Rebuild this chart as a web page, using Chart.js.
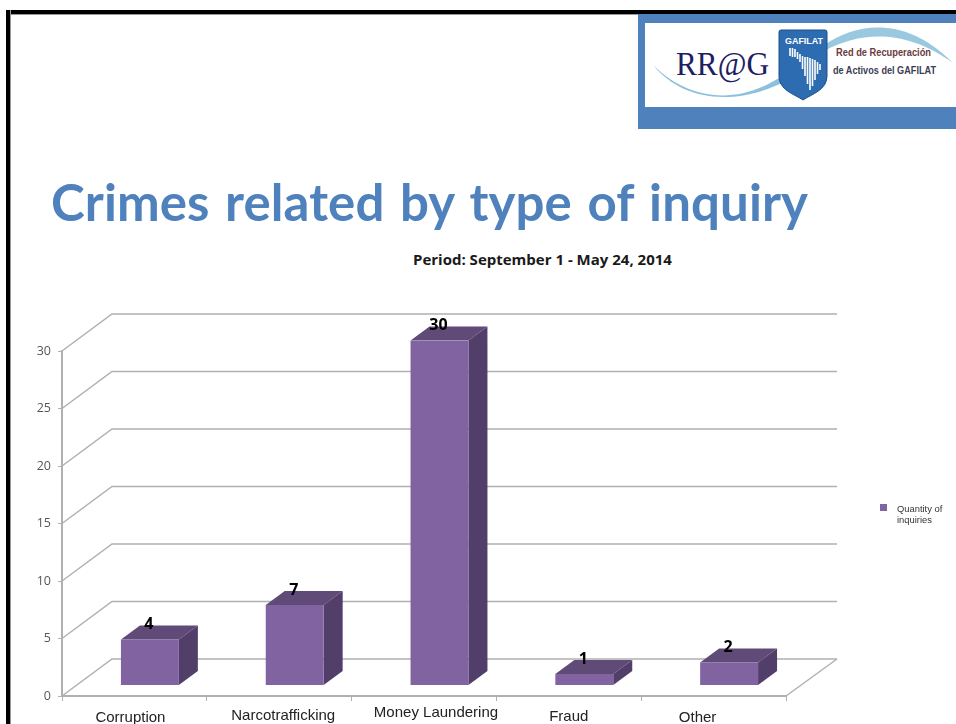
<!DOCTYPE html>
<html>
<head>
<meta charset="utf-8">
<title>Crimes related by type of inquiry</title>
<style>
  html, body { margin: 0; padding: 0; background: #fff; }
  body { position: relative; width: 956px; height: 724px; overflow: hidden; }
  #frameTop { position: absolute; left: 6px; top: 10px; width: 950px; height: 3.5px; background: #000; box-shadow: 0 1px 0 #999; }
  #frameLeft { position: absolute; left: 6px; top: 10px; width: 3.5px; height: 714px; background: #000; box-shadow: 1px 0 0 #999; }
  #logo { position: absolute; left: 630px; top: 0; }
  #heading {
    position: absolute; left: 51px; top: 171px; margin: 0; white-space: nowrap;
    font: bold 51px Lato, sans-serif; color: #4f81bd; letter-spacing: 0.1px; word-spacing: 3px;
  }
  #period {
    position: absolute; left: 413px; top: 249px; white-space: nowrap;
    font: bold 15px "Open Sans", sans-serif; color: #1a1a1a;
  }
  #chart { position: absolute; left: 0; top: 0; }
  #legend {
    position: absolute; left: 880px; top: 503px; width: 72px; padding-left: 17px; box-sizing: border-box;
    font: 9.4px/11px "Liberation Sans", sans-serif; color: #333;
  }
  #legend i { position: absolute; left: 0; top: 1px; width: 7px; height: 7px; background: #8064a2; }
</style>
</head>
<body>
<div id="frameTop"></div>
<div id="frameLeft"></div>

<svg id="logo" width="326" height="135" viewBox="630 0 326 135">
  <rect x="638" y="14" width="318" height="115" fill="#4f81bd"/>
  <rect x="645" y="23" width="311" height="84" fill="#fff"/>
  <path d="M653 65 C680 92 728 112 782 76 L782 83 C728 108 680 98 653 65 Z" fill="#8cc0dc"/>
  <path d="M826 44 C855 24 905 14 953 63 C905 28 860 32 826 50 Z" fill="#9ac8de"/>
  <text x="676" y="75" font-family="Liberation Serif" font-size="33" fill="#1c2060" textLength="93" lengthAdjust="spacingAndGlyphs">RR@G</text>
  <path d="M781 30 H825 Q827 30 827 32 V76 C827 90 812 94 803 100 C794 94 779 90 779 76 V32 Q779 30 781 30 Z" fill="#2d6cb0" stroke="#1d4f8c" stroke-width="1"/>
  <text x="785" y="44" font-family="Liberation Sans" font-weight="bold" font-size="8.5" fill="#fff" textLength="38" lengthAdjust="spacingAndGlyphs">GAFILAT</text>
  <path d="M790 48 V56 M792.5 48 V57 M795 49 V57 M797.5 52 V59 M800 54 V62 M802.5 56 V69 M805 57 V76 M807.5 57 V84 M810 58 V90 M812.5 59 V86 M815 60 V80 M817.5 62 V74 M820 64 V70" stroke="#fff" stroke-width="1.6" fill="none"/>
  <text x="836" y="56" font-family="Liberation Sans Narrow, Liberation Sans" font-weight="bold" font-size="10" fill="#6b3b40" textLength="95" lengthAdjust="spacingAndGlyphs">Red de Recuperación</text>
  <text x="833" y="74" font-family="Liberation Sans Narrow, Liberation Sans" font-weight="bold" font-size="10" fill="#3d3d55" textLength="103" lengthAdjust="spacingAndGlyphs">de Activos del GAFILAT</text>
</svg>

<h1 id="heading">Crimes related by type of inquiry</h1>
<div id="period">Period: September 1 - May 24, 2014</div>
<canvas id="chart" width="956" height="724"></canvas>
<div id="legend"></div>

<script src="https://cdn.jsdelivr.net/npm/chart.js@4/dist/chart.umd.min.js"></script>
<script>
//
// Variables
//

var categories = ['Corruption', 'Narcotrafficking', 'Money Laundering', 'Fraud', 'Other'];
var inquiries = [4, 7, 30, 1, 2];
var seriesName = 'Quantity of inquiries';
var yTicks = [0, 5, 10, 15, 20, 25, 30];

// The category labels were loose text boxes on the slide, so they wander a bit
var labelNudgeX = [-4, 4, 12, 0, -16];
var labelCenterY = [718, 716, 713, 717, 718];

// Fake 3D: how far the back wall and the bars sit from the front plane
var wallDepth = { x: 50, y: -37 };
var barShift = { x: 15.5, y: -10.5 };
var barDepth = { x: 19, y: -14 };

var frontColor = '#8063a0';
var topColor = '#604a78';
var sideColor = '#523f69';
var gridColor = '#b0b0b0';


//
// Methods
//

/**
 * Fill a closed polygon from a list of [x, y] corners
 */
function fillPoly(ctx, color, corners) {
    ctx.fillStyle = color;
    ctx.beginPath();
    corners.forEach(function (c, i) {
        if (i === 0) ctx.moveTo(c[0], c[1]);
        else ctx.lineTo(c[0], c[1]);
    });
    ctx.closePath();
    ctx.fill();
}


/**
 * Back wall, side wall and floor lines, one set per y tick
 */
function drawWalls(chart) {
    var ctx = chart.ctx;
    var yScale = chart.scales.y;
    var area = chart.chartArea;

    ctx.save();
    ctx.strokeStyle = gridColor;
    ctx.lineWidth = 1.5;
    yTicks.forEach(function (tick) {
        var y = yScale.getPixelForValue(tick);
        ctx.beginPath();
        ctx.moveTo(area.left, y);
        ctx.lineTo(area.left + wallDepth.x, y + wallDepth.y);
        ctx.lineTo(area.right + wallDepth.x + 1, y + wallDepth.y);
        ctx.stroke();
    });
    // Floor edge on the right
    ctx.beginPath();
    ctx.moveTo(area.right, area.bottom);
    ctx.lineTo(area.right + wallDepth.x + 1, area.bottom + wallDepth.y);
    ctx.stroke();
    ctx.restore();
}


/**
 * Top and side faces of each bar, taken from the bar elements themselves
 */
function drawBarFaces(chart) {
    var ctx = chart.ctx;
    chart.getDatasetMeta(0).data.forEach(function (bar) {
        var p = bar.getProps(['x', 'y', 'base', 'width'], true);
        var left = p.x - p.width / 2 + barShift.x;
        var right = p.x + p.width / 2 + barShift.x;
        var top = p.y + barShift.y;
        var bottom = p.base + barShift.y;

        fillPoly(ctx, topColor, [
            [left, top], [right, top],
            [right + barDepth.x, top + barDepth.y], [left + barDepth.x, top + barDepth.y]
        ]);
        fillPoly(ctx, sideColor, [
            [right, top], [right + barDepth.x, top + barDepth.y],
            [right + barDepth.x, bottom + barDepth.y], [right, bottom]
        ]);
    });
}


var slidePlugin = {
    id: 'slidePlugin',
    beforeDatasetsDraw: function (chart) {
        drawWalls(chart);
        drawBarFaces(chart);
        // The front faces are the real bars, moved onto the fake floor
        chart.ctx.save();
        chart.ctx.translate(barShift.x, barShift.y);
    },
    afterDatasetsDraw: function (chart) {
        var ctx = chart.ctx;
        var xScale = chart.scales.x;
        ctx.restore();

        ctx.save();
        ctx.textAlign = 'center';
        ctx.textBaseline = 'middle';

        // Values above the bars
        ctx.fillStyle = '#000';
        ctx.font = 'bold 16px "Open Sans", sans-serif';
        chart.getDatasetMeta(0).data.forEach(function (bar, i) {
            var p = bar.getProps(['x', 'y'], true);
            ctx.fillText(inquiries[i], p.x + barShift.x - 1, p.y + barShift.y - 15);
        });

        // Category labels
        ctx.fillStyle = '#222';
        ctx.font = '15px "Liberation Sans", sans-serif';
        categories.forEach(function (name, i) {
            ctx.fillText(name, xScale.getPixelForValue(i) + labelNudgeX[i], labelCenterY[i]);
        });
        ctx.restore();
    }
};


/**
 * Build the chart and its legend
 */
function renderChart() {
    var chart = new Chart(document.querySelector('#chart').getContext('2d'), {
        type: 'bar',
        data: {
            labels: categories,
            datasets: [{
                label: seriesName,
                data: inquiries,
                backgroundColor: frontColor,
                barPercentage: 0.4,
                categoryPercentage: 1
            }]
        },
        options: {
            responsive: false,
            animation: false,
            layout: { padding: { left: 0, right: 170, top: 351, bottom: 28 } },
            plugins: { legend: { display: false }, tooltip: { enabled: false } },
            scales: {
                x: {
                    afterFit: function (scale) { scale.height = 0; },
                    border: { color: gridColor, width: 2 },
                    grid: { color: gridColor, drawOnChartArea: false, tickLength: 5 },
                    ticks: { display: false }
                },
                y: {
                    min: 0,
                    max: 30,
                    afterFit: function (scale) { scale.width = 62; },
                    afterBuildTicks: function (scale) {
                        scale.ticks = yTicks.map(function (v) { return { value: v }; });
                    },
                    border: { color: gridColor, width: 2 },
                    grid: { color: gridColor, drawOnChartArea: false, tickLength: 4 },
                    ticks: {
                        color: '#555',
                        padding: 7,
                        font: { family: '"Open Sans", sans-serif', size: 12.5 }
                    }
                }
            }
        },
        plugins: [slidePlugin]
    });

    document.querySelector('#legend').innerHTML = '<i></i>' + chart.data.datasets[0].label;
}

renderChart();
</script>
</body>
</html>
